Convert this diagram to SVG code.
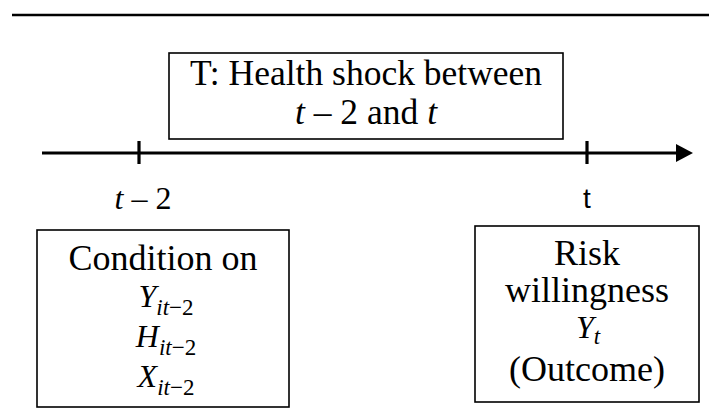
<svg xmlns="http://www.w3.org/2000/svg" width="709" height="419" viewBox="0 0 709 419">
<style>
.box{fill:#fff;stroke:#000;stroke-width:1.6}
.txt{font-family:"Liberation Serif","Times New Roman",serif;font-size:36px;fill:#000;text-anchor:middle}
.math{font-family:"Liberation Serif","Times New Roman",serif;font-size:32px;fill:#000;text-anchor:middle}
.it{font-style:italic}
.sub{font-size:23px}
.axis{stroke:#000;stroke-width:3.2;fill:none}
</style>
<rect width="709" height="419" fill="#fff"/>
<line x1="12" y1="15" x2="709" y2="15" stroke="#000" stroke-width="2.5"/>
<g id="connectors">
  <line class="axis" x1="42" y1="153" x2="678" y2="153"/>
  <polygon points="676,144 693,153 676,162" fill="#000"/>
  <line class="axis" x1="139" y1="141" x2="139" y2="164"/>
  <line class="axis" x1="587" y1="141" x2="587" y2="164"/>
</g>
<g id="treatment">
  <rect class="box" x="169" y="53" width="394" height="86"/>
  <text class="txt" x="366" y="85" style="font-size:35.5px">T: Health shock between</text>
  <text class="txt" x="366" y="124" style="font-size:35.5px"><tspan class="it">t</tspan> – 2 and <tspan class="it">t</tspan></text>
</g>
<g id="label-t-2">
  <text class="math" x="143" y="209"><tspan class="it">t</tspan> – 2</text>
</g>
<g id="label-t">
  <text x="587" y="208" style="font-family:'Liberation Sans',Arial,sans-serif;font-size:28px;text-anchor:middle">t</text>
</g>
<g id="condition">
  <rect class="box" x="37" y="230" width="252" height="177"/>
  <text class="txt" x="163" y="270">Condition on</text>
  <text class="math" x="166" y="307"><tspan class="it">Y</tspan><tspan class="sub it" dy="8">it</tspan><tspan class="sub">−2</tspan></text>
  <text class="math" x="166" y="347"><tspan class="it">H</tspan><tspan class="sub it" dy="8">it</tspan><tspan class="sub">−2</tspan></text>
  <text class="math" x="166" y="387"><tspan class="it">X</tspan><tspan class="sub it" dy="8">it</tspan><tspan class="sub">−2</tspan></text>
</g>
<g id="outcome">
  <rect class="box" x="475" y="226" width="224" height="176"/>
  <text class="txt" x="587" y="265">Risk</text>
  <text class="txt" x="587" y="302">willingness</text>
  <text class="math" x="588" y="338"><tspan class="it">Y</tspan><tspan class="sub it" dy="6">t</tspan></text>
  <text class="txt" x="587" y="381">(Outcome)</text>
</g>
</svg>
